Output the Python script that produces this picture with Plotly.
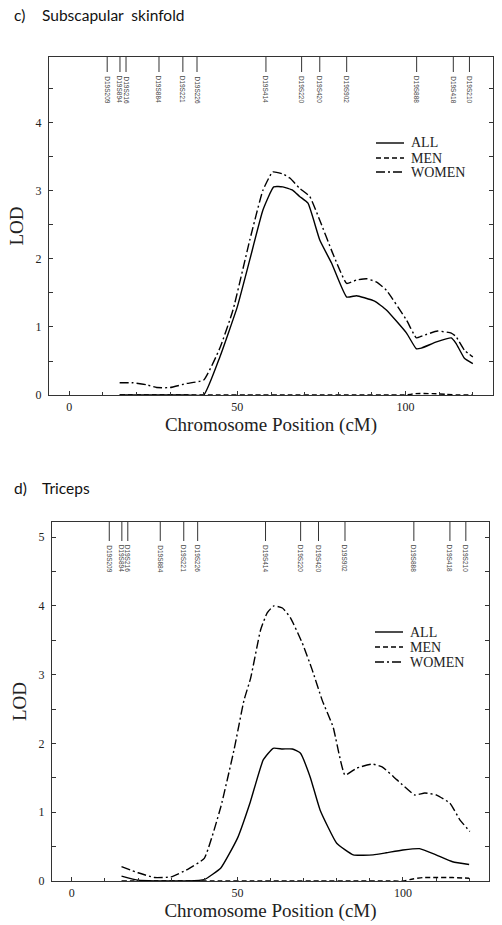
import plotly.graph_objects as go

# ---------------- data ----------------
marker_names = ["D19S209", "D19S894", "D19S216", "D19S884", "D19S221", "D19S226",
                "D19S414", "D19S220", "D19S420", "D19S902", "D19S888", "D19S418", "D19S210"]
marker_cm = [11.3, 15.1, 16.9, 26.7, 33.8, 38.0, 58.5, 69.1, 74.5, 82.5, 103.3, 114.2, 119.0]

# c) Subscapular skinfold
sub_all_cm = [15, 20, 25, 30, 35, 40, 44.8, 50, 53.7, 57.6, 60.8, 63.5, 66.5, 68.5, 71, 74.5, 78,
              82.5, 85.4, 87.8, 90.8, 94.3, 100.3, 103.2, 104.7, 109.2, 113.6, 115, 117.5, 120]
sub_all = [0, 0, 0, 0, 0, 0, 0.56, 1.3, 1.99, 2.72, 3.06, 3.06, 3.01, 2.92, 2.82, 2.28, 1.94,
           1.44, 1.46, 1.43, 1.38, 1.25, 0.91, 0.68, 0.69, 0.78, 0.84, 0.76, 0.54, 0.46]
sub_men_cm = [15, 25, 35, 45, 55, 65, 75, 85, 95, 100, 103, 108, 112, 116, 120]
sub_men = [0, 0, 0, 0, 0, 0, 0, 0, 0, 0, 0.02, 0.02, 0.01, 0, 0]
sub_women_cm = [15, 19, 23, 26, 30, 35, 40, 44.8, 48.7, 53.7, 57.6, 60.5, 63.5, 65.6, 68.5, 71.5,
                74.5, 78.3, 82.5, 85.4, 88.4, 91.4, 94.3, 100.3, 103.2, 105, 109.5, 113.6, 115,
                117.5, 120]
sub_women = [0.18, 0.18, 0.15, 0.11, 0.11, 0.17, 0.22, 0.69, 1.25, 2.28, 3.01, 3.28, 3.25, 3.19,
             3.04, 2.92, 2.57, 2.09, 1.64, 1.69, 1.71, 1.66, 1.54, 1.10, 0.84, 0.87, 0.94, 0.91,
             0.86, 0.66, 0.56]

# d) Triceps
tri_all_cm = [15, 20, 25, 30, 35, 40, 45, 50, 53.9, 57.8, 60.8, 63.6, 66.6, 69, 72, 75, 80, 85,
              91, 95, 100, 105, 110, 115, 120]
tri_all = [0.07, 0.01, 0, 0, 0, 0.02, 0.19, 0.62, 1.15, 1.76, 1.93, 1.92, 1.92, 1.86, 1.51, 1.03,
           0.55, 0.38, 0.38, 0.41, 0.45, 0.47, 0.38, 0.28, 0.24]
tri_men_cm = [15, 25, 35, 45, 55, 65, 75, 85, 95, 100, 103, 106, 110, 115, 120]
tri_men = [0, 0, 0, 0, 0, 0, 0, 0, 0, 0, 0.03, 0.05, 0.05, 0.05, 0.04]
tri_women_cm = [15, 20, 25, 30, 35, 40, 45, 49, 52, 54, 57, 59, 61, 63.6, 66, 69.6, 72.6, 75.6,
                78.9, 82.5, 86, 90.7, 93.7, 98.2, 103.6, 106.6, 110.2, 114.2, 117.2, 120.2]
tri_women = [0.21, 0.12, 0.05, 0.06, 0.17, 0.33, 1.08, 1.91, 2.63, 2.95, 3.65, 3.90, 4.0, 3.97,
             3.83, 3.46, 3.07, 2.63, 2.24, 1.54, 1.64, 1.70, 1.66, 1.47, 1.25, 1.28, 1.25, 1.13,
             0.89, 0.72]

series_names = ["ALL", "MEN", "WOMEN"]
x_tick_vals = [0, 50, 100]

# ---------------- styling ----------------
W, H = 502, 925
SERIF = "Liberation Serif, Times New Roman, serif"
SANS_TITLE = "Lato, Open Sans, sans-serif"
dash_styles = {"ALL": "solid", "MEN": "5px,3px", "WOMEN": "9px,3px,2px,3px"}
LW = 1.4
AX = "#333333"

def px_x(p):
    return p / W

def px_y(p):
    return 1 - p / H

fig = go.Figure()

panels = [
    dict(xa="x", ya="y", data=[(sub_all_cm, sub_all), (sub_men_cm, sub_men), (sub_women_cm, sub_women)],
         left=49, right=493, top=57, bottom=395, yrange=[0, 4.97], leg_x=376, leg_y=[143, 158, 172],
         mline=15, letter="c)", title="Subscapular\u00a0 skinfold", title_y=15),
    dict(xa="x2", ya="y2", data=[(tri_all_cm, tri_all), (tri_men_cm, tri_men), (tri_women_cm, tri_women)],
         left=52, right=489, top=522, bottom=881, yrange=[0, 5.22], leg_x=375, leg_y=[632, 647, 662],
         mline=19, letter="d)", title="Triceps", title_y=488),
]

shapes = []
annotations = []
for i, p in enumerate(panels):
    for name, (xs, ys) in zip(series_names, p["data"]):
        fig.add_trace(go.Scatter(x=xs, y=ys, mode="lines", name=name, showlegend=False,
                                 xaxis=p["xa"], yaxis=p["ya"], cliponaxis=False,
                                 line=dict(color="black", width=LW, dash=dash_styles[name],
                                           shape="spline", smoothing=0.4)))
    sfx = "" if i == 0 else "2"
    xdom = [px_x(p["left"]), px_x(p["right"])]
    ydom = [px_y(p["bottom"]), px_y(p["top"])]
    axis_common = dict(showgrid=False, zeroline=False, showline=True, linecolor=AX, linewidth=1.4,
                       ticks="inside", tickcolor=AX, ticklen=4, tickwidth=1, automargin=False,
                       tickfont=dict(family=SERIF, size=12, color="#222"))
    fig.layout["xaxis" + sfx] = dict(
        domain=xdom, anchor="y" + sfx, range=[-6, 126], tickmode="array", tickvals=x_tick_vals,
        mirror=True,
        minor=dict(dtick=10, tick0=0, ticks="inside", ticklen=3, tickcolor=AX),
        title=dict(text="Chromosome Position (cM)", font=dict(family=SERIF, size=19, color="#222"),
                   standoff=2),
        **axis_common)
    fig.layout["yaxis" + sfx] = dict(
        domain=ydom, anchor="x" + sfx, range=p["yrange"], dtick=1, tick0=0, mirror="ticks",
        minor=dict(dtick=0.5, tick0=0, ticks="inside", ticklen=4, tickcolor=AX),
        ticklabelstandoff=4,
        title=dict(text="LOD", font=dict(family=SERIF, size=19, color="#222"), standoff=6),
        **axis_common)

    dom_h = p["bottom"] - p["top"]
    # marker lines and labels
    for mname, mcm in zip(marker_names, marker_cm):
        shapes.append(dict(type="line", xref=p["xa"], yref=p["ya"] + " domain", x0=mcm, x1=mcm,
                           y0=1, y1=1 - p["mline"] / dom_h, line=dict(color="#333", width=1)))
        annotations.append(dict(x=mcm, xref=p["xa"], y=1 - (p["mline"] + 2) / dom_h,
                                yref=p["ya"] + " domain", text=mname, textangle=90, showarrow=False,
                                xanchor="center", yanchor="top",
                                font=dict(family="Liberation Sans, Arial", size=6.5, color="#444")))
    # legend
    for name, ly in zip(series_names, p["leg_y"]):
        shapes.append(dict(type="line", xref="paper", yref="paper",
                           x0=px_x(p["leg_x"]), x1=px_x(p["leg_x"] + 28), y0=px_y(ly), y1=px_y(ly),
                           line=dict(color="black", width=LW, dash=dash_styles[name])))
        annotations.append(dict(x=px_x(p["leg_x"] + 33), y=px_y(ly), xref="paper", yref="paper",
                                text=name, showarrow=False, xanchor="left", yanchor="middle",
                                font=dict(family=SERIF, size=14, color="#222")))
    # panel titles
    annotations.append(dict(x=px_x(12), y=px_y(p["title_y"]), xref="paper", yref="paper",
                            text=p["letter"], showarrow=False, xanchor="left", yanchor="middle",
                            font=dict(family=SANS_TITLE, size=15.5, color="#111")))
    annotations.append(dict(x=px_x(40), y=px_y(p["title_y"]), xref="paper", yref="paper",
                            text=p["title"], showarrow=False, xanchor="left", yanchor="middle",
                            font=dict(family=SANS_TITLE, size=15.5, color="#111")))

fig.update_layout(width=W, height=H, margin=dict(l=0, r=0, t=0, b=0, autoexpand=False),
                  paper_bgcolor="white", plot_bgcolor="white",
                  shapes=shapes, annotations=annotations, showlegend=False)

fig.write_html("out.html", config={"displayModeBar": False},
               post_script="document.body.style.margin='0';document.body.style.overflow='hidden';")
